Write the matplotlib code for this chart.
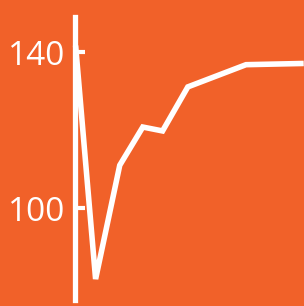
import matplotlib
matplotlib.use("Agg")
import matplotlib.pyplot as plt

# data
x_vals = [0, 0.9, 2.0, 3.05, 3.95, 5.1, 7.75, 10.25]
y_vals = [141, 81.8, 111, 120.8, 119.8, 131.1, 136.8, 137.1]
y_ticks = [100, 140]

bg = "#F16129"

fig = plt.figure(figsize=(3.04, 3.06), dpi=100, facecolor=bg)
ax = fig.add_axes([0.248, 0.018, 0.752, 0.926], facecolor=bg)

ax.plot(x_vals, y_vals, color="white", lw=4, solid_joinstyle="miter", clip_on=False)

ax.set_xlim(-0.02, 10.39)
ax.set_ylim(76.3, 149)
ax.set_yticks(y_ticks)
ax.set_xticks([])

for s in ["top", "right", "bottom"]:
    ax.spines[s].set_visible(False)
ax.spines["left"].set_color("white")
ax.spines["left"].set_linewidth(3.8)

ax.tick_params(axis="y", direction="in", length=7, width=3, colors="white",
               labelsize=24, pad=7)
for lab in ax.get_yticklabels():
    lab.set_family("Open Sans")

fig.savefig("out.png", dpi=100, facecolor=bg)
